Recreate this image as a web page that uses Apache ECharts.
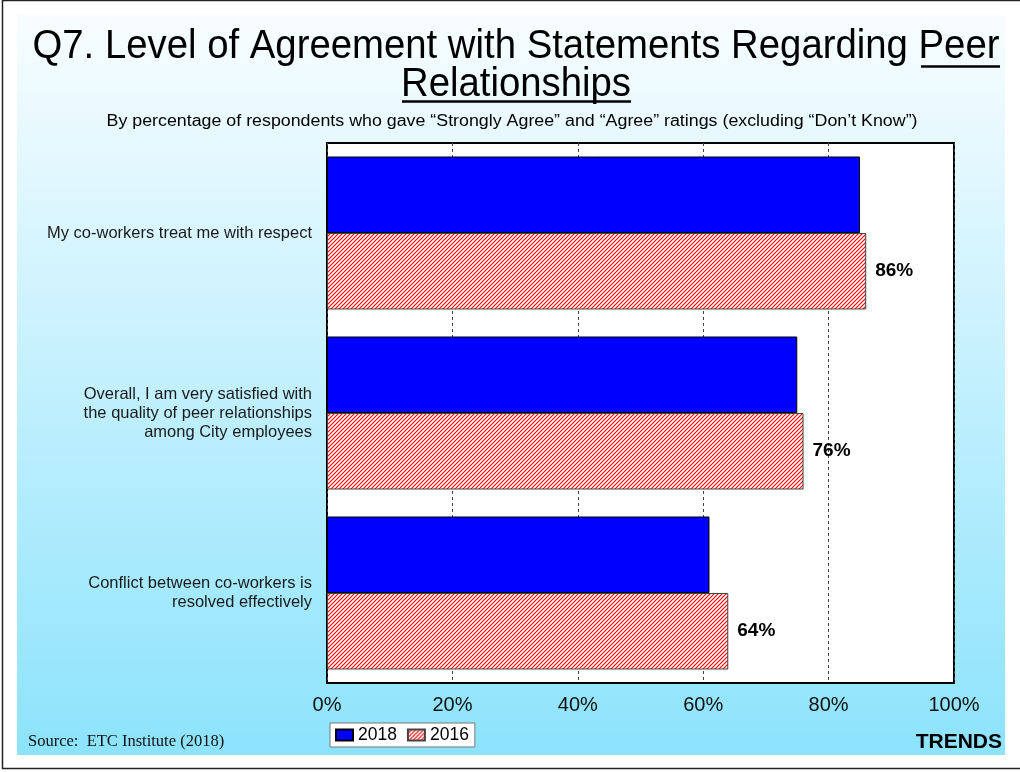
<!DOCTYPE html>
<html>
<head>
<meta charset="utf-8">
<script src="https://cdn.jsdelivr.net/npm/echarts/dist/echarts.min.js"></script>
<style>
  html, body { margin: 0; padding: 0; background: #fff; }
  #chart { width: 1020px; height: 772px; }
</style>
</head>
<body>
<div id="chart"></div>
<script>
// Statements (one per row, top to bottom)
const categories = [
  'My co-workers treat me with respect',
  'Overall, I am very satisfied with\nthe quality of peer relationships\namong City employees',
  'Conflict between co-workers is\nresolved effectively'
];
// Percent agreeing, by survey year
const values2018 = [85, 75, 61];
const values2016 = [86, 76, 64];
const seriesNames = ['2018', '2016'];
// Value axis ticks
const axisMin = 0;
const axisMax = 100;
const axisStep = 20;

const titleLine1 = 'Q7. Level of Agreement with Statements Regarding Peer';
const titleLine2 = 'Relationships';
const subtitle = 'By percentage of respondents who gave \u201cStrongly Agree\u201d and \u201cAgree\u201d ratings (excluding \u201cDon\u2019t Know\u201d)';
const sourceText = 'Source:  ETC Institute (2018)';
const cornerText = 'TRENDS';

const SANS = '"Liberation Sans", Arial, Helvetica, sans-serif';
const SERIF = '"Liberation Serif", "Times New Roman", Times, serif';

// red diagonal hatch on white for the older year
function makeHatch() {
  const c = document.createElement('canvas');
  c.width = 4; c.height = 4;
  const g = c.getContext('2d');
  g.fillStyle = '#ffffff';
  g.fillRect(0, 0, 4, 4);
  g.strokeStyle = '#ff0000';
  g.lineWidth = 1.2;
  g.beginPath();
  g.moveTo(-1, 5); g.lineTo(5, -1);
  g.moveTo(-1, 1); g.lineTo(1, -1);
  g.moveTo(3, 5); g.lineTo(5, 3);
  g.stroke();
  return c;
}
const hatchFill = { image: makeHatch(), repeat: 'repeat' };

// horizontal squeeze so the headings fit their width
const measureCtx = document.createElement('canvas').getContext('2d');
function squeeze(text, font, targetWidth) {
  measureCtx.font = font;
  return targetWidth / measureCtx.measureText(text).width;
}
const titleFont = '41px ' + SANS;
const subFont = '16px ' + SANS;
const sx1 = squeeze(titleLine1, titleFont, 967);
const sx2 = squeeze(subtitle, subFont, 811);

function txt(x, y, text, font, align, scaleX, fill) {
  return {
    type: 'text', x: x, y: y, z: 20, scaleX: scaleX || 1,
    style: {
      text: text, font: font, fill: fill || '#000',
      align: align, verticalAlign: 'middle',
      textAlign: align, textVerticalAlign: 'middle'
    }
  };
}
function hline(x1, x2, y, w) {
  return {
    type: 'line', z: 20,
    shape: { x1: x1, y1: y, x2: x2, y2: y },
    style: { stroke: '#000', lineWidth: w }
  };
}

const chart = echarts.init(document.getElementById('chart'), null, { renderer: 'canvas' });

chart.setOption({
  animation: false,
  backgroundColor: '#ffffff',
  graphic: [
    {
      type: 'rect', z: -10,
      shape: { x: 17, y: 15, width: 988, height: 740 },
      style: {
        fill: new echarts.graphic.LinearGradient(0, 0, 0, 1, [
          { offset: 0, color: '#f8fdff' },
          { offset: 1, color: '#8ce3fc' }
        ])
      }
    },
    {
      type: 'rect', z: -9,
      shape: { x: 2.5, y: 0.5, width: 1040, height: 768 },
      style: { fill: 'none', stroke: '#222', lineWidth: 1.5 }
    },
    txt(516, 47, titleLine1, titleFont, 'center', sx1),
    txt(516, 84.5, titleLine2, titleFont, 'center', sx1),
    hline(921, 1000, 66.5, 2.5),
    hline(402, 631, 101.5, 2.5),
    txt(512, 122, subtitle, subFont, 'center', sx2),
    txt(28, 742, sourceText, '16.5px ' + SERIF, 'left', 1, '#111'),
    txt(1002, 742, cornerText, 'bold 21px ' + SANS, 'right', 1, '#000')
  ],
  legend: {
    data: seriesNames,
    left: 330,
    top: 723,
    orient: 'horizontal',
    icon: 'rect',
    padding: [3, 6, 3, 5],
    itemGap: 10,
    itemWidth: 17,
    itemHeight: 11,
    backgroundColor: '#ffffff',
    borderColor: '#777',
    borderWidth: 1,
    borderRadius: 0,
    textStyle: { fontFamily: SANS, fontSize: 17.5, color: '#000' }
  },
  grid: {
    left: 327, top: 143, width: 627, height: 540,
    show: true,
    backgroundColor: '#ffffff',
    borderColor: '#000',
    borderWidth: 2,
    containLabel: false
  },
  xAxis: {
    type: 'value',
    min: axisMin, max: axisMax, interval: axisStep,
    axisLine: { show: false },
    axisTick: { show: false },
    axisLabel: {
      formatter: '{value}%', margin: 12,
      fontFamily: SANS, fontSize: 20, color: '#111'
    },
    splitLine: { show: true, lineStyle: { color: '#444', width: 1, type: [3, 3] } }
  },
  yAxis: {
    type: 'category',
    inverse: true,
    data: categories,
    axisLine: { show: false },
    axisTick: { show: false },
    axisLabel: {
      margin: 15, align: 'right',
      fontFamily: SANS, fontSize: 16.5, lineHeight: 19, color: '#1a1a1a'
    },
    splitLine: { show: false }
  },
  series: [
    {
      name: seriesNames[0],
      type: 'bar',
      data: values2018,
      barGap: '0%',
      barCategoryGap: '15%',
      itemStyle: { color: '#0000ff', borderColor: '#000', borderWidth: 1 },
      label: { show: false }
    },
    {
      name: seriesNames[1],
      type: 'bar',
      data: values2016,
      barGap: '0%',
      barCategoryGap: '15%',
      itemStyle: { color: hatchFill, borderColor: '#444', borderWidth: 1 },
      label: {
        show: true, position: 'right', distance: 9,
        formatter: '{c}%',
        fontFamily: SANS, fontSize: 19, fontWeight: 'bold', color: '#000'
      }
    }
  ]
});
</script>
</body>
</html>
